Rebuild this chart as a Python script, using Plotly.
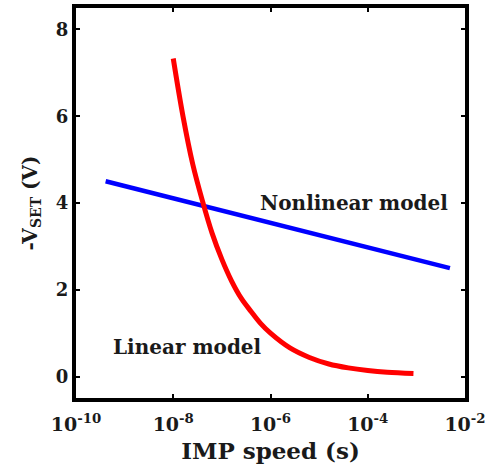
import plotly.graph_objects as go

# Nonlinear model: straight line on log-time axis
nonlinear_exp = [-9.39, -2.31]
nonlinear_v = [4.5, 2.5]

# Linear model curve (exponent of IMP speed, -V_SET)
linear_exp = [-8.0, -7.8, -7.6, -7.4, -7.2, -7.0, -6.8, -6.6, -6.4, -6.2, -6.0,
              -5.6, -5.2, -4.8, -4.4, -4.0, -3.6, -3.06]
linear_v = [7.33, 6.0, 4.9, 4.05, 3.3, 2.7, 2.2, 1.8, 1.5, 1.22, 1.0,
            0.66, 0.44, 0.29, 0.2, 0.14, 0.1, 0.07]

x_tick_exp = [-10, -8, -6, -4, -2]
y_ticks = [0, 2, 4, 6, 8]

font_family = "DejaVu Serif"
text_color = "#1a1a1a"

fig = go.Figure()
fig.add_trace(go.Scatter(
    x=[10 ** e for e in nonlinear_exp], y=nonlinear_v, mode="lines",
    line=dict(color="#0000ff", width=4.5), showlegend=False))
fig.add_trace(go.Scatter(
    x=[10 ** e for e in linear_exp], y=linear_v, mode="lines",
    line=dict(color="#ff0000", width=5, shape="spline"), showlegend=False))

fig.add_annotation(x=-4.28, y=4.0, xref="x", yref="y", text="<b>Nonlinear model</b>",
                   showarrow=False, font=dict(family=font_family, size=20, color=text_color))
fig.add_annotation(x=-7.7, y=0.67, xref="x", yref="y", text="<b>Linear model</b>",
                   showarrow=False, font=dict(family=font_family, size=20, color=text_color))

axis_common = dict(showline=True, linewidth=4, linecolor="black", mirror="ticks",
                   ticks="inside", ticklen=4, tickwidth=2, tickcolor="black",
                   showgrid=False, zeroline=False, automargin=False)

fig.update_xaxes(
    type="log", range=[-10, -2],
    tickvals=[10 ** e for e in x_tick_exp],
    ticktext=["<b>10<sup>%d</sup></b>" % e for e in x_tick_exp],
    tickfont=dict(family=font_family, size=19, color=text_color),
    ticklabelstandoff=6, ticklabeloverflow="allow",
    title=dict(text="<b>IMP speed (s)</b>", standoff=10,
               font=dict(family=font_family, size=23, color=text_color)),
    **axis_common)
fig.update_yaxes(
    range=[-0.494, 8.494],
    tickvals=y_ticks, ticktext=["<b>%d</b>" % v for v in y_ticks],
    tickfont=dict(family=font_family, size=18, color=text_color),
    title=dict(text="<b>-V<sub>SET</sub> (V)</b>", standoff=14,
               font=dict(family=font_family, size=20, color=text_color)),
    **axis_common)

fig.update_layout(
    width=485, height=473,
    margin=dict(l=76, r=19.5, t=7.5, b=74.5),
    paper_bgcolor="white", plot_bgcolor="white",
)

fig.write_html("out.html")
